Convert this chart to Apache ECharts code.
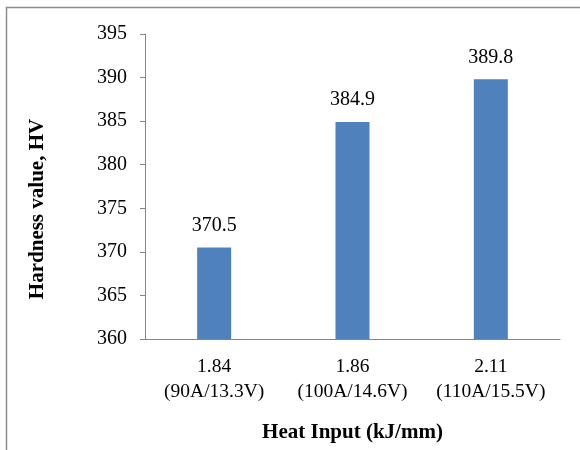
<!DOCTYPE html>
<html><head><meta charset="utf-8">
<script src="https://cdn.jsdelivr.net/npm/echarts@6/dist/echarts.min.js"></script>
<style>html,body{margin:0;padding:0;background:#fff}#c{width:580px;height:450px}</style>
</head><body><div id="c"></div>
<script>
const categories = ['1.84\n(90A/13.3V)', '1.86\n(100A/14.6V)', '2.11\n(110A/15.5V)'];
const hardness = [370.5, 384.9, 389.8];
const yMin = 360, yMax = 395, yStep = 5;
const xTitle = 'Heat Input (kJ/mm)';
const yTitle = 'Hardness value, HV';

const font = '"Liberation Serif", "Times New Roman", serif';
const chart = echarts.init(document.getElementById('c'), null, {renderer: 'canvas'});
chart.setOption({
  animation: false,
  backgroundColor: '#fff',
  grid: {left: 145, right: 20, top: 34, bottom: 111, containLabel: false},
  xAxis: {
    type: 'category', data: categories,
    axisLine: {lineStyle: {color: '#868686', width: 1}},
    axisTick: {show: false},
    axisLabel: {interval: 0, hideOverlap: false, color: '#000', fontFamily: font, fontSize: 19.5, lineHeight: 25, margin: 15},
    name: xTitle, nameLocation: 'middle', nameGap: 83,
    nameTextStyle: {color: '#000', fontFamily: font, fontSize: 21, fontWeight: 'bold'}
  },
  yAxis: {
    type: 'value', min: yMin, max: yMax, interval: yStep,
    axisLine: {show: true, lineStyle: {color: '#868686', width: 1}},
    axisTick: {show: true, length: 5, lineStyle: {color: '#868686'}},
    splitLine: {show: false},
    axisLabel: {color: '#000', fontFamily: font, fontSize: 20, margin: 18}
  },
  graphic: [
    {type: 'rect', shape: {x: 6.5, y: 7.5, width: 700, height: 600}, style: {fill: 'none', stroke: '#8c8c8c', lineWidth: 1.5}, silent: true},
    {type: 'text', x: 38, y: 209, rotation: Math.PI / 2, style: {text: yTitle, fill: '#000', font: 'bold 21px ' + font, textAlign: 'center', textVerticalAlign: 'middle'}}
  ],
  series: [{
    type: 'bar', data: hardness, barWidth: 34,
    itemStyle: {color: '#4F81BD'},
    label: {show: true, position: 'top', distance: 12, color: '#000', fontFamily: font, fontSize: 20, formatter: p => p.value.toFixed(1)}
  }]
});
</script></body></html>
